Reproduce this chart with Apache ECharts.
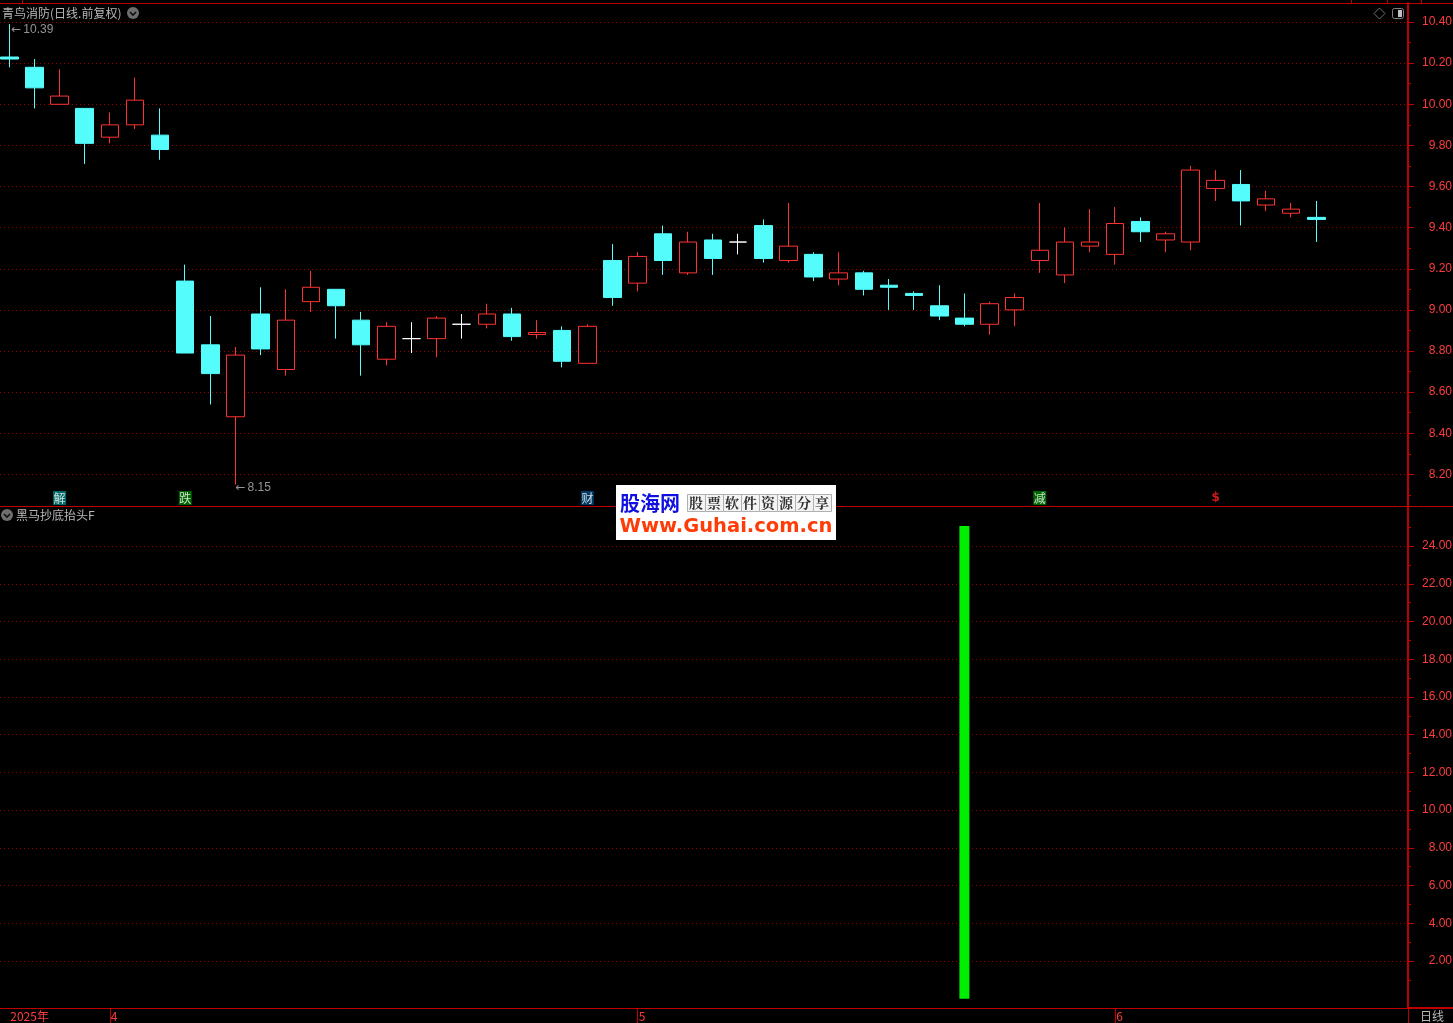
<!DOCTYPE html>
<html><head><meta charset="utf-8">
<style>html,body{margin:0;padding:0;background:#000}#c{width:1453px;height:1023px}</style>
<script src="https://cdn.jsdelivr.net/npm/echarts@6/dist/echarts.min.js"></script>
</head><body><div id="c"></div>
<script>
// open, close, low, high for each trading day, index = position on the time axis
const opens  = [10.23,10.18,10.00,9.98,9.84,9.90,9.85,9.14,8.83,8.48,8.98,8.71,9.04,9.10,8.95,8.76,8.86,8.86,8.93,8.93,8.98,8.88,8.90,8.74,9.24,9.13,9.37,9.18,9.34,9.33,9.41,9.24,9.27,9.15,9.18,9.12,9.08,9.02,8.96,8.93,9.00,9.24,9.17,9.31,9.27,9.43,9.34,9.33,9.59,9.61,9.51,9.47,9.45];
const closes = [10.22,10.08,10.04,9.81,9.90,10.02,9.78,8.79,8.69,8.78,8.81,8.95,9.11,9.02,8.83,8.92,8.86,8.96,8.93,8.98,8.87,8.89,8.75,8.92,9.06,9.26,9.24,9.33,9.25,9.33,9.25,9.31,9.16,9.18,9.10,9.11,9.07,8.97,8.93,9.03,9.06,9.29,9.33,9.33,9.42,9.38,9.37,9.68,9.63,9.53,9.54,9.49,9.44];
const lows   = [10.18,9.98,10.00,9.71,9.81,9.88,9.73,8.79,8.54,8.15,8.78,8.68,8.99,8.86,8.68,8.73,8.79,8.77,8.86,8.91,8.85,8.86,8.72,8.74,9.02,9.09,9.17,9.17,9.17,9.27,9.23,9.23,9.14,9.12,9.07,9.00,9.00,8.95,8.92,8.88,8.92,9.18,9.13,9.28,9.22,9.33,9.28,9.29,9.53,9.41,9.48,9.45,9.33];
const highs  = [10.39,10.22,10.17,9.98,9.96,10.13,9.98,9.22,8.97,8.82,9.11,9.10,9.19,9.10,8.99,8.94,8.94,8.97,8.98,9.03,9.01,8.95,8.92,8.93,9.32,9.28,9.41,9.38,9.37,9.37,9.44,9.52,9.28,9.28,9.19,9.15,9.09,9.12,9.08,9.04,9.08,9.52,9.40,9.49,9.50,9.45,9.38,9.70,9.68,9.68,9.58,9.52,9.53];
const priceTicks = [8.2,8.4,8.6,8.8,9.0,9.2,9.4,9.6,9.8,10.0,10.2,10.4];
const priceMinor = [8.1,8.3,8.5,8.7,8.9,9.1,9.3,9.5,9.7,9.9,10.1,10.3];
const indTicks = [2,4,6,8,10,12,14,16,18,20,22,24];
const indMinor = [1,3,5,7,9,11,13,15,17,19,21,23,25];
const signalDay = [38];
const signalValue = [25.06];
const monthDays = [4,25,44];
const axisLabelDays = [0,4,25,44];
const axisLabelText = ['2025年','4','5','6'];
const eventDays = [2,7,23,41,48];
const eventText = ['解','跌','财','减','$'];
const eventBg = ['#008080','#007a00','#004a80','#008000','rgba(0,0,0,0)'];
const eventFg = ['#ffffff','#ffffff','#ffffff','#ffffff','#ff2020'];
const extremes = [[0,10.39,'10.39',[2,6]],[9,8.15,'8.15',[0,3]]];
const logoCells = ['股','票','软','件','资','源','分','享'];

const RED='#c00000', DOT='#a00000', TXT='#ff3c3c', GREY='#b8b8b8', SANS='"Liberation Sans",Arial,sans-serif', CJK='"Noto Sans CJK SC",sans-serif';
const xMin=-0.37, xMax=55.65;
const makeX=(gi,extra)=>Object.assign({type:'value',gridIndex:gi,min:xMin,max:xMax,splitLine:{show:false},axisTick:{show:false},axisLabel:{show:false},axisLine:{show:false}},extra||{});
const makeY=(gi,min,max,ticks,labels,len,split)=>({type:'value',gridIndex:gi,position:'right',min,max,
  axisLine:{show:labels,onZero:false,lineStyle:{color:RED,width:2}},
  axisTick:{show:true,inside:false,length:len,customValues:ticks,lineStyle:{color:RED,width:1}},
  axisLabel:{show:labels,customValues:ticks,align:'right',margin:44,padding:[4,0,0,0],color:TXT,fontFamily:SANS,fontSize:12,formatter:v=>Number(v).toFixed(2)},
  splitLine:{show:split,lineStyle:{color:DOT,width:1,type:[1,3]}},minorTick:{show:false},splitArea:{show:false}});
const candles=opens.map((o,i)=>[i,o,closes[i],lows[i],highs[i]]);
const icon=(x,y)=>([
 {type:'circle',shape:{cx:x,cy:y,r:6},style:{fill:'#6e6e6e'},silent:true},
 {type:'polyline',shape:{points:[[x-3,y-1],[x,y+2],[x+3,y-1]]},style:{stroke:'#101010',lineWidth:1.6,fill:null},silent:true}]);
const txt=(x,y,text,fill,font,extra)=>({type:'text',x,y,silent:true,style:Object.assign({text,fill,font,textVerticalAlign:'middle'},extra||{})});
const line=(x1,y1,x2,y2,c,w)=>({type:'line',shape:{x1,y1,x2,y2},style:{stroke:c||RED,lineWidth:w||1},silent:true});
const graphics=[
 line(0,3.5,1453,3.5), line(0,506.5,1453,506.5), line(1408,1008,1453,1008,RED,2), line(1408.5,1008,1408.5,1023),
 line(22.5,0,22.5,3), line(1351.5,0,1351.5,3), line(1387.5,0,1387.5,3), line(1421.5,0,1421.5,3),
 txt(2,13,'青鸟消防(日线.前复权)',GREY,'12px '+CJK), ...icon(133,13),
 txt(16,515,'黑马抄底抬头F',GREY,'12px '+CJK), ...icon(7,515),
 {type:'polygon',shape:{points:[[1379.5,8],[1385,13.5],[1379.5,19],[1374,13.5]]},style:{stroke:'#707070',fill:null},silent:true},
 {type:'rect',shape:{x:1392.5,y:8.5,width:11,height:10,r:2},style:{stroke:'#808080',fill:null},silent:true},
 {type:'rect',shape:{x:1398,y:10,width:4,height:7},style:{fill:'#c0c0c0'},silent:true},
 txt(1420,1016,'日线',GREY,'12px '+CJK),
 {type:'rect',shape:{x:616,y:485,width:220,height:55},style:{fill:'#ffffff'},silent:true,z:50},
 txt(620,503,'股海网','#1010e0','bold 20px '+CJK,{}),
 txt(619.5,527,'Www.Guhai.com.cn','#ff3c08','bold 19.5px "DejaVu Sans",sans-serif',{}),
 ...logoCells.flatMap((c,i)=>[
   {type:'rect',shape:{x:687.5+18*i,y:494.5,width:18,height:17},style:{stroke:'#b0b0b0',fill:'#f4f4f4'},silent:true,z:50},
   txt(689+18*i,503,c,'#303030','bold 14px "Noto Serif CJK SC","Noto Sans CJK SC",serif')])
].map(g=>Object.assign({z:50},g));

const chart=echarts.init(document.getElementById('c'),null,{renderer:'canvas'});
chart.setOption({
 animation:false,backgroundColor:'#000',tooltip:{show:false},
 grid:[{left:0,top:3,width:1408,height:503,outerBoundsMode:'none'},{left:0,top:507,width:1408,height:501,outerBoundsMode:'none'}],
 xAxis:[makeX(0),makeX(1,{position:'bottom',axisLine:{show:true,onZero:false,lineStyle:{color:RED,width:1}},
   axisTick:{show:true,length:15,customValues:monthDays,lineStyle:{color:RED}},
   axisLabel:{show:true,customValues:axisLabelDays,align:'left',margin:2,color:TXT,fontFamily:CJK,fontSize:12,padding:[0,0,0,1],
     formatter:v=>axisLabelText[axisLabelDays.indexOf(Math.round(v))]||''}})],
 yAxis:[makeY(0,8.046,10.4927,priceTicks,true,6,true),makeY(0,8.046,10.4927,priceMinor,false,3,false),
        makeY(1,-0.49,26.07,indTicks,true,6,true),makeY(1,-0.49,26.07,indMinor,false,3,false)],
 series:[
  {type:'candlestick',xAxisIndex:0,yAxisIndex:0,barWidth:18,data:candles,encode:{x:0,y:[1,2,3,4]},
   itemStyle:{color:'#000000',color0:'#54fcfc',borderColor:'#ff3232',borderColor0:'#54fcfc',borderColorDoji:'#ffffff',borderWidth:1}},
  {type:'scatter',xAxisIndex:0,yAxisIndex:0,symbolSize:0,silent:true,data:extremes.map(e=>({value:[e[0],e[1]],
     label:{show:true,position:'right',distance:0,offset:e[3],formatter:'{a|←}{b|'+e[2]+'}',
       rich:{a:{color:GREY,fontFamily:'"DejaVu Sans"',fontSize:12},b:{color:GREY,fontFamily:SANS,fontSize:12,padding:[0,0,0,2]}}}}))},
  {type:'scatter',xAxisIndex:0,yAxisIndex:0,silent:true,symbol:'rect',symbolSize:[13,14],data:eventDays.map((d,i)=>({value:[d,8.085],itemStyle:{color:eventBg[i]},
     label:{show:true,position:'inside',formatter:eventText[i],color:eventFg[i],fontFamily:i==4?'"DejaVu Sans"':CJK,fontSize:12,fontWeight:i==4?'bold':'normal'}}))},
  {type:'bar',xAxisIndex:1,yAxisIndex:2,barWidth:10,data:signalDay.map((d,i)=>[d,signalValue[i]]),itemStyle:{color:'#00ee00'}}
 ],
 graphic:graphics
});
</script></body></html>
